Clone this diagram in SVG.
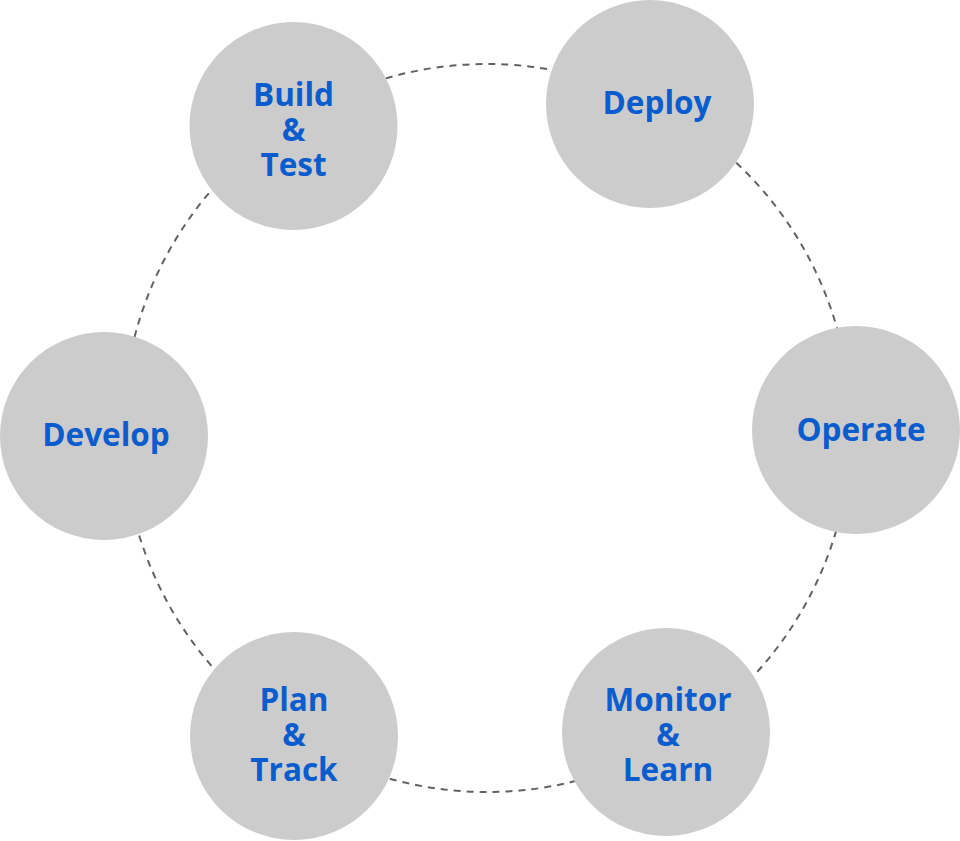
<svg xmlns="http://www.w3.org/2000/svg" width="960" height="841" viewBox="0 0 960 841">
<style>
.node{fill:#cccccc;}
.lbl{font-family:"Open Sans","Noto Sans","Liberation Sans",sans-serif;font-weight:700;font-size:31.5px;fill:#0b5ccc;text-anchor:middle;}
.ring{fill:none;stroke:#5f6368;stroke-width:2;stroke-dasharray:7 6;}
</style>
<rect width="960" height="841" fill="#ffffff"/>
<g id="connectors">
<circle class="ring" cx="487" cy="428" r="364"/>
</g>
<g id="build-test">
<circle class="node" cx="293.5" cy="126" r="104"/>
<text class="lbl" x="293.5" y="106">Build</text>
<text class="lbl" x="293.5" y="141">&amp;</text>
<text class="lbl" x="293.5" y="176">Test</text>
</g>
<g id="deploy">
<circle class="node" cx="650" cy="104" r="104"/>
<text class="lbl" x="657" y="114">Deploy</text>
</g>
<g id="operate">
<circle class="node" cx="856" cy="430" r="104"/>
<text class="lbl" x="861" y="441">Operate</text>
</g>
<g id="monitor-learn">
<circle class="node" cx="666" cy="732" r="104"/>
<text class="lbl" x="668" y="711">Monitor</text>
<text class="lbl" x="668" y="746">&amp;</text>
<text class="lbl" x="668" y="781">Learn</text>
</g>
<g id="plan-track">
<circle class="node" cx="294" cy="736" r="104"/>
<text class="lbl" x="294" y="711">Plan</text>
<text class="lbl" x="294" y="746">&amp;</text>
<text class="lbl" x="294" y="781">Track</text>
</g>
<g id="develop">
<circle class="node" cx="104" cy="436" r="104"/>
<text class="lbl" x="106" y="446">Develop</text>
</g>
</svg>
